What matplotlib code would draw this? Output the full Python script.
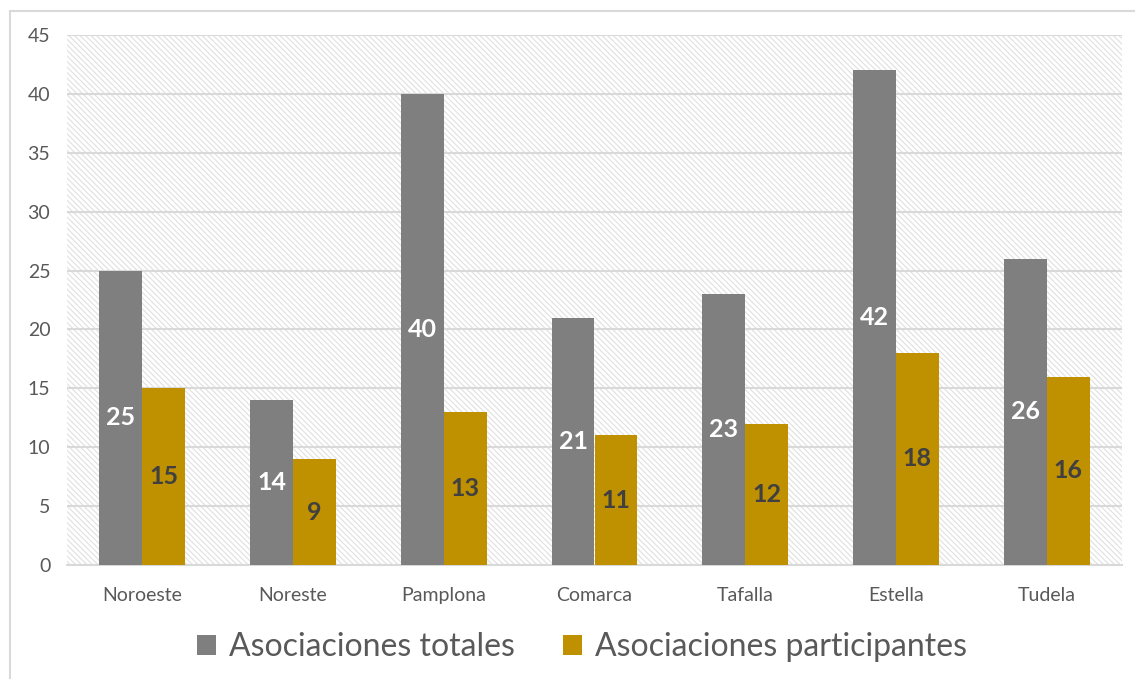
import matplotlib
matplotlib.use("Agg")
import matplotlib.pyplot as plt
import numpy as np
from matplotlib.patches import Rectangle, Patch

categories = ["Noroeste", "Noreste", "Pamplona", "Comarca", "Tafalla", "Estella", "Tudela"]
totales = [25, 14, 40, 21, 23, 42, 26]
participantes = [15, 9, 13, 11, 12, 18, 16]
series_names = ["Asociaciones totales", "Asociaciones participantes"]
yticks = [0, 5, 10, 15, 20, 25, 30, 35, 40, 45]

GRAY = "#7f7f7f"
GOLD = "#bf9000"
TXT = "#595959"

plt.rcParams["font.family"] = ["Lato", "DejaVu Sans"]
plt.rcParams["hatch.color"] = "#e0e0e0"
plt.rcParams["hatch.linewidth"] = 0.8

W, H = 1135, 679
fig = plt.figure(figsize=(W / 100, H / 100), dpi=100)
fig.patch.set_facecolor("white")

# outer chart border (cut off at right/bottom)
fig.add_artist(Rectangle((10 / W, -0.05), 1.1, 1.05 - 11 / H, transform=fig.transFigure,
                         fill=False, edgecolor="#d9d9d9", linewidth=1.5, zorder=0))

ax = fig.add_axes([67 / W, 114 / H, (1122 - 67) / W, (565 - 35) / H])
ax.set_facecolor("white")
# hatched background
ax.add_patch(Rectangle((0, 0), 1, 1, transform=ax.transAxes, facecolor="white",
                       edgecolor="#e0e0e0", hatch="\\\\\\\\\\\\", linewidth=0, zorder=0))

x = np.arange(len(categories))
bw = 0.285
b1 = ax.bar(x - bw / 2, totales, bw, color=GRAY, zorder=3, label=series_names[0])
b2 = ax.bar(x + bw / 2, participantes, bw, color=GOLD, zorder=3, label=series_names[1])

for rect, v in zip(b1, totales):
    ax.text(rect.get_x() + rect.get_width() / 2, v / 2, str(v), ha="center", va="center",
            color="white", fontsize=18, fontweight="bold", zorder=4)
for rect, v in zip(b2, participantes):
    ax.text(rect.get_x() + rect.get_width() / 2, v / 2, str(v), ha="center", va="center",
            color="#404040", fontsize=18, fontweight="bold", zorder=4)

ax.set_xlim(-0.5, len(categories) - 0.5)
ax.set_ylim(0, 45)
ax.set_yticks(yticks)
ax.set_yticklabels([str(t) for t in yticks])
ax.set_xticks(x)
ax.set_xticklabels(categories)
ax.tick_params(axis="both", length=0, colors=TXT, labelsize=14)
ax.tick_params(axis="y", pad=12)
ax.tick_params(axis="x", pad=16)
ax.yaxis.grid(True, color="#d9d9d9", linewidth=1.5, zorder=1)
ax.set_axisbelow(True)
for s in ["top", "right", "left"]:
    ax.spines[s].set_visible(False)
ax.spines["bottom"].set_color("#d9d9d9")
ax.spines["bottom"].set_linewidth(1.5)

handles = [Patch(facecolor=GRAY), Patch(facecolor=GOLD)]
fig.legend(handles, series_names, loc="center", bbox_to_anchor=(582 / W, 1 - 647 / H),
           ncol=2, frameon=False, fontsize=23, labelcolor=TXT, handlelength=0.6,
           handleheight=0.6, handletextpad=0.4, columnspacing=1.5)

fig.savefig("out.png", dpi=100)
